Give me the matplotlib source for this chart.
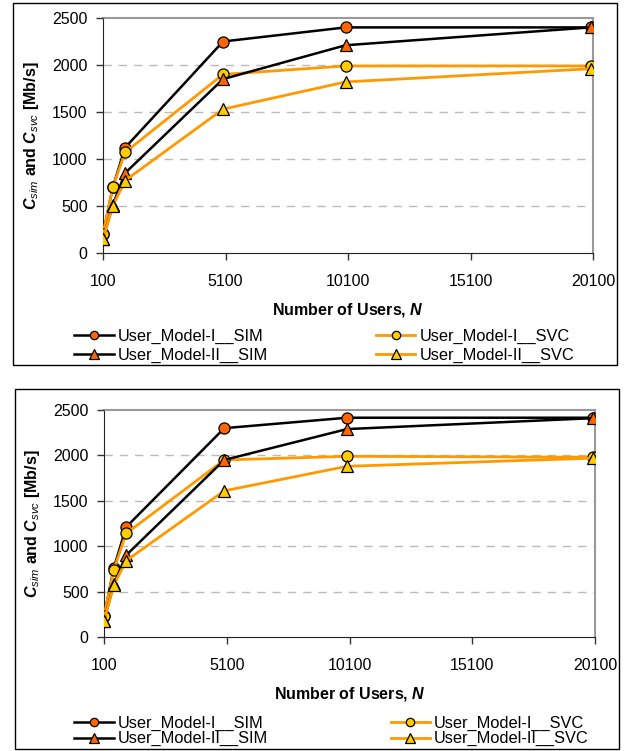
import matplotlib
matplotlib.use('Agg')
import matplotlib.pyplot as plt
from matplotlib.patches import Rectangle

# Data
users = [100, 500, 1000, 5000, 10000, 20000]

# top panel
top_sim_1 = [200, 700, 1120, 2250, 2400, 2400]
top_sim_2 = [150, 510, 850, 1850, 2210, 2400]
top_svc_1 = [200, 700, 1070, 1900, 1990, 1990]
top_svc_2 = [150, 500, 770, 1530, 1820, 1960]

# bottom panel
bot_sim_1 = [230, 760, 1210, 2300, 2415, 2415]
bot_sim_2 = [180, 580, 900, 1950, 2290, 2410]
bot_svc_1 = [230, 740, 1140, 1950, 1990, 1980]
bot_svc_2 = [180, 570, 840, 1610, 1880, 1970]

labels = ['User_Model-I__SIM', 'User_Model-I__SVC',
          'User_Model-II__SIM', 'User_Model-II__SVC']
x_ticks = [100, 5100, 10100, 15100, 20100]
y_ticks = [0, 500, 1000, 1500, 2000, 2500]

plt.rcParams['font.family'] = ['Liberation Sans', 'DejaVu Sans']
plt.rcParams['mathtext.fontset'] = 'custom'
plt.rcParams['mathtext.rm'] = 'Liberation Sans'
plt.rcParams['mathtext.it'] = 'Liberation Sans:italic'
plt.rcParams['mathtext.bf'] = 'Liberation Sans:bold'
plt.rcParams['mathtext.bfit'] = 'Liberation Sans:italic:bold'

W, H = 630, 751
fig = plt.figure(figsize=(W / 100, H / 100), dpi=100)

BLACK = '#000000'
ORANGE_LINE = '#FF9900'
RED_FILL = '#FF6600'
YEL_FILL = '#FFCC00'


def px_axes(x0, y0, x1, y1):
    # axes from pixel box (top-left origin)
    return fig.add_axes([x0 / W, 1 - y1 / H, (x1 - x0) / W, (y1 - y0) / H])


def draw_panel(box, ax_box, sim1, sim2, svc1, svc2, leg_y, colspace, labspace):
    # outer frame round the panel
    bx0, by0, bx1, by1 = box
    fig.patches.append(Rectangle((bx0 / W, 1 - by1 / H), (bx1 - bx0) / W,
                                 (by1 - by0) / H, transform=fig.transFigure,
                                 fill=False, edgecolor='black', linewidth=1.0))
    ax = px_axes(*ax_box)

    # drawing order matters for overlaps
    h1, = ax.plot(users, sim1, color=BLACK, lw=1.8, marker='o', ms=8,
                  mfc=RED_FILL, mec='black', mew=0.9, label=labels[0])
    h2, = ax.plot(users, svc1, color=ORANGE_LINE, lw=2.0, marker='o', ms=8,
                  mfc=YEL_FILL, mec='black', mew=0.9, label=labels[1])
    h3, = ax.plot(users, sim2, color=BLACK, lw=1.8, marker='^', ms=9,
                  mfc=RED_FILL, mec='black', mew=0.9, label=labels[2])
    h4, = ax.plot(users, svc2, color=ORANGE_LINE, lw=2.0, marker='^', ms=9,
                  mfc=YEL_FILL, mec='black', mew=0.9, label=labels[3])

    ax.set_xlim(100, 20100)
    ax.set_ylim(0, 2500)
    ax.set_xticks(x_ticks)
    ax.set_yticks(y_ticks)
    ax.tick_params(axis='both', direction='out', length=5, width=1,
                   labelsize=11.5, color='#333333')
    ax.tick_params(axis='x', pad=10)
    ax.tick_params(axis='y', pad=6)

    for g in y_ticks[1:-1]:
        ax.axhline(g, color='#BBBBBB', lw=1.0, ls=(0, (6, 5)), zorder=0)

    ax.spines['left'].set_color('#222222')
    ax.spines['bottom'].set_color('#222222')
    ax.spines['top'].set_color('#999999')
    ax.spines['right'].set_color('#999999')
    ax.spines['top'].set_linewidth(1.5)
    ax.spines['right'].set_linewidth(1.5)
    for s in ax.spines.values():
        s.set_zorder(0.5)

    ax.set_xlabel(r'Number of Users, $\mathbfit{N}$', fontsize=11.5,
                  fontweight='bold', labelpad=9)
    ax.set_ylabel(r'$\mathbfit{C}_{\mathit{sim}}$ and $\mathbfit{C}_{\mathit{svc}}$ [Mb/s]',
                  fontsize=11.5, fontweight='bold', labelpad=8)

    ax.legend(handles=[h1, h3, h2, h4],
              labels=[labels[0], labels[2], labels[1], labels[3]],
              ncol=2, loc='upper left', frameon=False, fontsize=11.8,
              bbox_to_anchor=(66 / W, 1 - leg_y / H),
              bbox_transform=fig.transFigure, borderpad=0,
              handlelength=2.4, handletextpad=0.25,
              columnspacing=colspace, labelspacing=labspace,
              markerscale=0.75)
    return ax


draw_panel((13, 3, 617, 365), (103, 18, 593, 253),
           top_sim_1, top_sim_2, top_svc_1, top_svc_2, 321, 6.6, 0.2)
draw_panel((15, 389, 619, 749), (104, 410, 595, 637),
           bot_sim_1, bot_sim_2, bot_svc_1, bot_svc_2, 708, 7.5, 0.0)

fig.savefig('out.png', dpi=100)
